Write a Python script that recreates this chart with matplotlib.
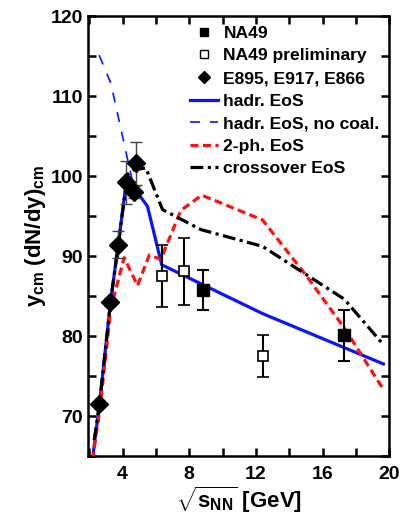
import matplotlib
matplotlib.use("Agg")
import matplotlib.pyplot as plt
from matplotlib.ticker import MultipleLocator, FuncFormatter
from matplotlib.lines import Line2D

plt.rcParams['font.family'] = ['Liberation Sans', 'DejaVu Sans']
plt.rcParams['font.weight'] = 'bold'
plt.rcParams['mathtext.fontset'] = 'custom'
plt.rcParams['mathtext.rm'] = 'Liberation Sans:bold'
plt.rcParams['mathtext.bf'] = 'Liberation Sans:bold'
plt.rcParams['mathtext.it'] = 'Liberation Sans:bold'

# --- data ---
na49_x = [8.8, 17.3]
na49_y = [85.7, 80.1]
na49_err = [2.5, 3.2]

prelim_x = [6.34, 7.66, 12.4]
prelim_y = [87.5, 88.1, 77.5]
prelim_err = [3.9, 4.2, 2.6]

e895_x = [2.62, 3.28, 3.74, 4.22, 4.66, 4.78]
e895_y = [71.5, 84.2, 91.4, 99.2, 98.0, 101.6]
e895_err = [0.3, 0.5, 1.7, 2.7, 0.8, 2.7]

hadr_x = [2.2, 2.62, 3.28, 3.74, 4.22, 4.7, 5.5, 6.35, 12.4, 19.65]
hadr_y = [64.6, 71.5, 84.2, 91.4, 99.1, 98.5, 96.2, 88.9, 82.8, 76.5]

nocoal_x = [2.6, 3.3, 4.6, 4.7]
nocoal_y = [115.1, 111.6, 99.3, 98.5]

twoph_x = [2.2, 2.65, 3.3, 4.1, 4.9, 5.6, 6.3, 7.5, 8.75, 12.4, 15.0, 17.3, 19.65]
twoph_y = [64.5, 71.0, 83.5, 89.8, 86.3, 90.1, 89.6, 95.7, 97.6, 94.5, 87.6, 81.0, 73.3]

cross_x = [2.3, 2.62, 3.28, 3.74, 4.3, 4.7, 5.4, 6.4, 8.7, 12.4, 17.3, 19.65]
cross_y = [67.0, 71.5, 84.2, 91.3, 100.2, 100.8, 101.0, 95.8, 93.3, 91.2, 84.6, 78.9]

fig = plt.figure(figsize=(4.02, 5.23), dpi=100)
ax = fig.add_axes([0.2197, 0.1281, 0.7488, 0.8413])

ax.plot(hadr_x, hadr_y, color='#0a14ff', lw=2.3, zorder=3)
ax.plot(nocoal_x, nocoal_y, color='#0a14ff', lw=1.2, dashes=(6, 6), zorder=3)
ax.plot(twoph_x, twoph_y, color='#ff1010', lw=2.3, dashes=(2.5, 1.4), zorder=3)
ax.plot(cross_x, cross_y, color='black', lw=2.3, dashes=(4, 1.4, 1, 1.4), zorder=3)

ax.errorbar(na49_x, na49_y, yerr=na49_err, fmt='s', color='black', ms=8,
            capsize=4, elinewidth=1.5, capthick=1.5, zorder=5)
ax.errorbar(prelim_x, prelim_y, yerr=prelim_err, fmt='s', color='black', mfc='white',
            mec='black', mew=1.2, ms=7.5, capsize=4, elinewidth=1.5, capthick=1.5, zorder=5)
ax.errorbar(e895_x, e895_y, yerr=e895_err, fmt='D', color='black', ms=9,
            capsize=4, elinewidth=1.0, capthick=1.0, ecolor='#444444', zorder=6)

ax.set_xlim(1.95, 20)
ax.set_ylim(65, 120)

ax.xaxis.set_major_locator(MultipleLocator(2))
ax.yaxis.set_major_locator(MultipleLocator(5))
ax.xaxis.set_major_formatter(FuncFormatter(lambda v, p: f"{v:.0f}" if round(v) % 4 == 0 else ""))
ax.yaxis.set_major_formatter(FuncFormatter(lambda v, p: f"{v:.0f}" if round(v) % 10 == 0 else ""))
ax.tick_params(direction='in', length=6, width=1.8, top=True, right=True,
               labelsize=14, pad=4)
ax.tick_params(axis='x', pad=7)
for s in ax.spines.values():
    s.set_linewidth(1.8)

ax.set_xlabel(r'$\sqrt{\mathbf{s}_{\mathbf{NN}}}$ [GeV]', fontsize=16, fontweight='bold', labelpad=1)
ax.set_ylabel(r'$\mathbf{y_{cm}}$ (dN/dy)$_{\mathbf{cm}}$', fontsize=16, fontweight='bold', labelpad=2)

handles = [
    Line2D([], [], ls='none', marker='s', color='black', ms=6),
    Line2D([], [], ls='none', marker='s', mfc='white', mec='black', mew=1.0, ms=6),
    Line2D([], [], ls='none', marker='D', color='black', ms=6),
    Line2D([], [], color='#0a14ff', lw=2.3),
    Line2D([], [], color='#0a14ff', lw=1.2, dashes=(6, 6)),
    Line2D([], [], color='#ff1010', lw=2.3, dashes=(2.5, 1.4)),
    Line2D([], [], color='black', lw=2.3, dashes=(4, 1.4, 1, 1.4)),
]
labels = ['NA49', 'NA49 preliminary', 'E895, E917, E866', 'hadr. EoS',
          'hadr. EoS, no coal.', '2-ph. EoS', 'crossover EoS']
leg = ax.legend(handles, labels, loc='upper left', bbox_to_anchor=(0.315, 0.994),
                frameon=False, handlelength=1.6, handletextpad=0.3,
                labelspacing=0.42, borderaxespad=0.0, prop={'weight': 'bold', 'size': 12.6})

fig.savefig('out.png', dpi=100)
